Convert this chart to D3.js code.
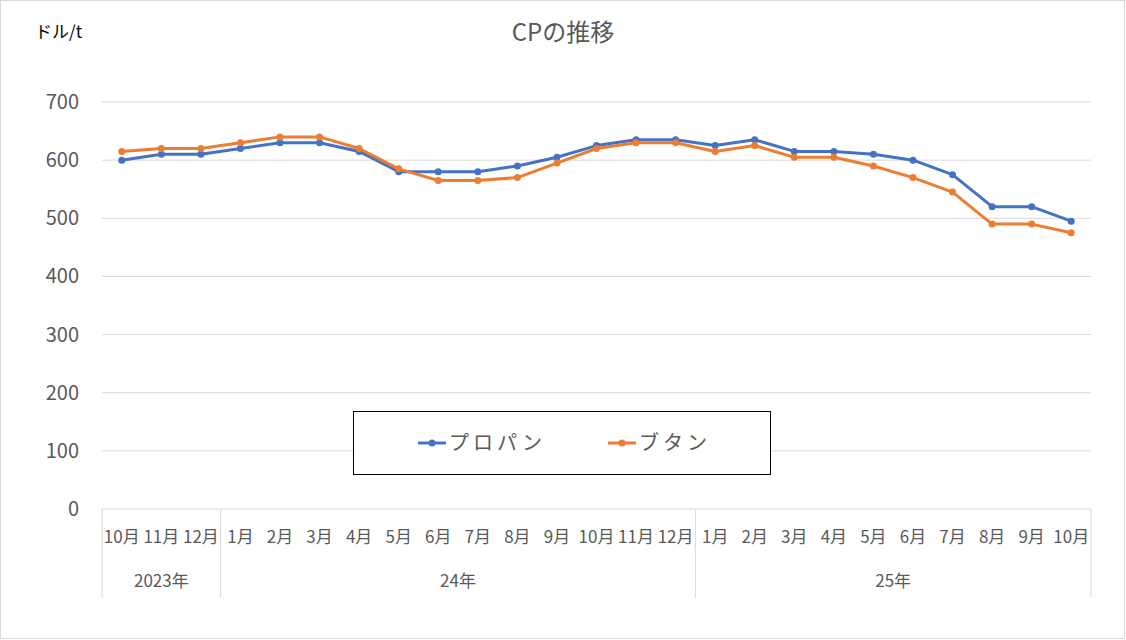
<!DOCTYPE html>
<html>
<head>
<meta charset="utf-8">
<script src="https://cdn.jsdelivr.net/npm/d3@7/dist/d3.min.js"></script>
<style>
  body { margin: 0; background: #fff; }
  svg { display: block; font-family: "Noto Sans CJK JP", "Noto Sans", sans-serif; }
</style>
</head>
<body>
<div id="chart"></div>
<script>
// months from 2023/10 to 2025/10
var months = ["10月","11月","12月",
  "1月","2月","3月","4月","5月","6月","7月","8月","9月","10月","11月","12月",
  "1月","2月","3月","4月","5月","6月","7月","8月","9月","10月"];
var yearGroups = [
  { label: "2023年", start: 0, end: 2 },
  { label: "24年", start: 3, end: 14 },
  { label: "25年", start: 15, end: 24 }
];
var propane = [600,610,610,620,630,630,615,580,580,580,590,605,625,635,635,625,635,615,615,610,600,575,520,520,495];
var butane  = [615,620,620,630,640,640,620,585,565,565,570,595,620,630,630,615,625,605,605,590,570,545,490,490,475];
var yTicks = [0,100,200,300,400,500,600,700];
var seriesNames = ["プロパン", "ブタン"];
var colors = ["#4472c4", "#ed7d31"];

var W = 1126, H = 640;
var plotL = 102, plotR = 1091, plotT = 102, plotB = 509;

var svg = d3.select("#chart").append("svg")
  .attr("width", W).attr("height", H);

// outer frame
svg.append("rect")
  .attr("x", 0.5).attr("y", 0.5)
  .attr("width", W - 2).attr("height", H - 2)
  .attr("fill", "#fff").attr("stroke", "#d9d9d9");

var x = d3.scaleBand()
  .domain(d3.range(months.length))
  .range([plotL, plotR]);
var y = d3.scaleLinear().domain([0, 700]).range([plotB, plotT]);

// gridlines
svg.append("g")
  .selectAll("line")
  .data(yTicks.filter(function(d){ return d > 0; }))
  .join("line")
  .attr("x1", plotL).attr("x2", plotR)
  .attr("y1", function(d){ return y(d); })
  .attr("y2", function(d){ return y(d); })
  .attr("stroke", "#d9d9d9").attr("stroke-width", 1);

// y labels
svg.append("g")
  .selectAll("text")
  .data(yTicks)
  .join("text")
  .attr("x", 79)
  .attr("y", function(d){ return y(d); })
  .attr("dy", "0.35em")
  .attr("text-anchor", "end")
  .attr("font-size", 20)
  .attr("fill", "#595959")
  .text(function(d){ return d; });

// x axis line and group separators
var axisBottom = 598;
svg.append("line")
  .attr("x1", plotL).attr("x2", plotR)
  .attr("y1", plotB).attr("y2", plotB)
  .attr("stroke", "#d9d9d9");

var sepIdx = [0].concat(yearGroups.map(function(g){ return g.end + 1; }));
svg.append("g")
  .selectAll("line")
  .data(sepIdx)
  .join("line")
  .attr("x1", function(i){ return i < months.length ? x(i) : plotR; })
  .attr("x2", function(i){ return i < months.length ? x(i) : plotR; })
  .attr("y1", plotB).attr("y2", axisBottom)
  .attr("stroke", "#d9d9d9");

// month labels
svg.append("g")
  .selectAll("text")
  .data(months)
  .join("text")
  .attr("x", function(d, i){ return x(i) + x.bandwidth() / 2; })
  .attr("y", 543)
  .attr("text-anchor", "middle")
  .attr("font-size", 17)
  .attr("fill", "#595959")
  .text(function(d){ return d; });

// year labels
svg.append("g")
  .selectAll("text")
  .data(yearGroups)
  .join("text")
  .attr("x", function(g){ return (x(g.start) + x(g.end) + x.bandwidth()) / 2; })
  .attr("y", 587)
  .attr("text-anchor", "middle")
  .attr("font-size", 17)
  .attr("fill", "#595959")
  .text(function(g){ return g.label; });

// series
var line = d3.line()
  .x(function(d, i){ return x(i) + x.bandwidth() / 2; })
  .y(function(d){ return y(d); });

[propane, butane].forEach(function(vals, k) {
  svg.append("path")
    .datum(vals)
    .attr("d", line)
    .attr("fill", "none")
    .attr("stroke", colors[k])
    .attr("stroke-width", 3)
    .attr("stroke-linejoin", "round");
  svg.append("g")
    .selectAll("circle")
    .data(vals)
    .join("circle")
    .attr("cx", function(d, i){ return x(i) + x.bandwidth() / 2; })
    .attr("cy", function(d){ return y(d); })
    .attr("r", 3.5)
    .attr("fill", colors[k]);
});

// title and unit
svg.append("text")
  .attr("x", 563).attr("y", 41)
  .attr("text-anchor", "middle")
  .attr("font-size", 24)
  .attr("fill", "#595959")
  .text("CPの推移");

svg.append("text")
  .attr("x", 35).attr("y", 38)
  .attr("font-size", 17)
  .attr("fill", "#000")
  .text("ドル/t");

// legend
var lg = svg.append("g");
lg.append("rect")
  .attr("x", 353.5).attr("y", 411.5)
  .attr("width", 417).attr("height", 63)
  .attr("fill", "#fff").attr("stroke", "#000").attr("stroke-width", 1);

var legendX = [418, 608];
seriesNames.forEach(function(name, k) {
  var lx = legendX[k];
  lg.append("line")
    .attr("x1", lx).attr("x2", lx + 28)
    .attr("y1", 443).attr("y2", 443)
    .attr("stroke", colors[k]).attr("stroke-width", 3);
  lg.append("circle")
    .attr("cx", lx + 14).attr("cy", 443).attr("r", 3.5)
    .attr("fill", colors[k]);
  lg.append("text")
    .attr("x", lx + 31).attr("y", 443)
    .attr("dy", "0.35em")
    .attr("font-size", 20)
    .attr("letter-spacing", 4)
    .attr("fill", "#595959")
    .text(name);
});
</script>
</body>
</html>
